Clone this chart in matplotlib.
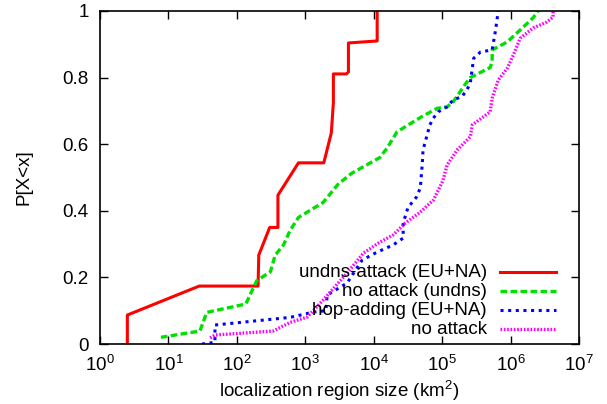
import numpy as np
import matplotlib
matplotlib.use("Agg")
import matplotlib.pyplot as plt
from matplotlib.lines import Line2D

plt.rcParams['font.family'] = ['Liberation Sans', 'DejaVu Sans']
plt.rcParams['mathtext.fontset'] = 'custom'
plt.rcParams['mathtext.rm'] = 'Liberation Sans'
plt.rcParams['mathtext.it'] = 'Liberation Sans'

# CDF points, x as log10(km^2), y as P[X<x]
undns_attack_logx = [0.40, 0.40, 1.45, 2.31, 2.32, 2.48, 2.60, 2.60, 2.90, 3.27,
                     3.38, 3.41, 3.41, 3.60, 3.63, 3.63, 4.05, 4.05]
undns_attack_p = [0.0, 0.087, 0.174, 0.174, 0.267, 0.35, 0.35, 0.447, 0.544, 0.544,
                  0.634, 0.724, 0.811, 0.811, 0.817, 0.904, 0.910, 1.0]

noattack_undns_logx = [0.89, 1.46, 1.56, 2.13, 2.29, 2.49, 2.56, 2.68, 2.78, 2.90,
                       3.26, 3.48, 3.68, 4.09, 4.19, 4.34, 4.68, 4.93, 5.07, 5.16,
                       5.33, 5.41, 5.70, 5.73, 5.73, 5.95, 6.14, 6.33, 6.40]
noattack_undns_p = [0.02, 0.039, 0.095, 0.12, 0.19, 0.217, 0.267, 0.297, 0.342, 0.38,
                    0.425, 0.48, 0.513, 0.56, 0.587, 0.637, 0.68, 0.708, 0.712, 0.727,
                    0.778, 0.80, 0.83, 0.847, 0.883, 0.907, 0.943, 0.98, 1.0]

hop_adding_logx = [1.49, 1.68, 1.68, 2.78, 3.12, 3.30, 3.32, 3.61, 3.83, 4.05,
                   4.28, 4.43, 4.43, 4.50, 4.62, 4.68, 4.71, 4.72, 4.82, 4.87,
                   4.94, 5.07, 5.16, 5.29, 5.36, 5.41, 5.46, 5.56, 5.73, 5.78,
                   5.80, 5.82]
hop_adding_p = [0.0, 0.005, 0.057, 0.08, 0.096, 0.10, 0.147, 0.183, 0.252, 0.276,
                0.297, 0.318, 0.363, 0.41, 0.44, 0.468, 0.543, 0.583, 0.658, 0.678,
                0.697, 0.712, 0.733, 0.743, 0.763, 0.783, 0.858, 0.877, 0.883, 0.943,
                0.973, 1.0]

noattack_logx = [1.61, 1.68, 2.53, 2.78, 3.03, 3.26, 3.61, 3.85, 4.09, 4.28,
                 4.46, 4.68, 4.87, 5.01, 5.07, 5.22, 5.41, 5.44, 5.60, 5.70,
                 5.73, 5.82, 5.95, 6.04, 6.14, 6.33, 6.53, 6.62, 6.62]
noattack_p = [0.018, 0.027, 0.039, 0.065, 0.081, 0.132, 0.213, 0.273, 0.306, 0.327,
              0.363, 0.396, 0.432, 0.49, 0.537, 0.583, 0.622, 0.658, 0.682, 0.697,
              0.738, 0.793, 0.828, 0.868, 0.918, 0.949, 0.967, 0.982, 1.0]

labels = ["undns-attack (EU+NA)", "no attack (undns)", "hop-adding (EU+NA)", "no attack"]
colors = ["#ff0000", "#00e000", "#0000ff", "#ff00ff"]
styles = ["-", (0, (2.0, 1.0)), (0, (1.0, 1.5)), (0, (0.5, 0.5))]
widths = [2.2, 2.4, 2.2, 2.4]

series = [(undns_attack_logx, undns_attack_p), (noattack_undns_logx, noattack_undns_p),
          (hop_adding_logx, hop_adding_p), (noattack_logx, noattack_p)]

fig = plt.figure(figsize=(6.07, 4.04), dpi=100)
ax = fig.add_axes([0.1647, 0.1485, 0.7893, 0.8243])

for (lx, p), c, ls, lw in zip(series, colors, styles, widths):
    ax.plot(10 ** np.array(lx), p, color=c, linestyle=ls, linewidth=lw)

ax.set_xscale("log")
ax.set_xlim(1, 1e7)
ax.set_ylim(0, 1)
ax.set_xticks([10 ** k for k in range(8)])
ax.set_xticklabels([r"$10^{%d}$" % k for k in range(8)])
ax.minorticks_off()
ax.set_yticks([0, 0.2, 0.4, 0.6, 0.8, 1.0])
ax.set_yticklabels(["0", "0.2", "0.4", "0.6", "0.8", "1"])
ax.tick_params(direction="in", top=True, right=True, length=6, width=1,
               labelsize=13.5, pad=8)
for s in ax.spines.values():
    s.set_linewidth(1.2)

ax.set_xlabel("localization region size (km$^2$)", fontsize=13.5, labelpad=3)
ax.set_ylabel("P[X<x]", fontsize=13.5, labelpad=22)

# gnuplot-style legend: text right-aligned, sample to the right
leg_y = [0.216, 0.158, 0.101, 0.045]
for lab, c, ls, lw, yy in zip(labels, colors, styles, widths, leg_y):
    ax.text(0.808, yy, lab, transform=ax.transAxes, ha="right", va="center", fontsize=13.5)
    ax.add_line(Line2D([0.835, 0.952], [yy, yy], transform=ax.transAxes,
                       color=c, linestyle=ls, linewidth=lw))

fig.savefig("out.png", dpi=100)
